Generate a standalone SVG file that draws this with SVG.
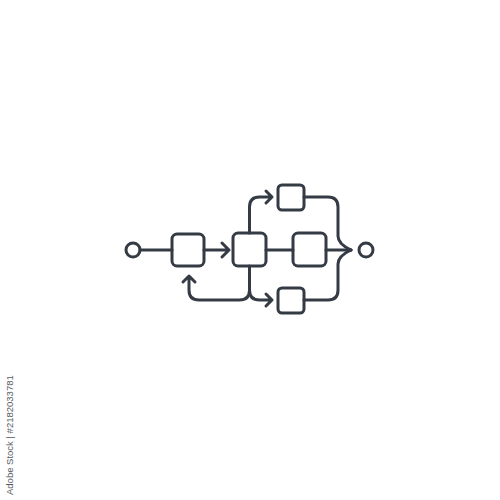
<svg xmlns="http://www.w3.org/2000/svg" width="500" height="500" viewBox="0 0 500 500">
<style>
.s{fill:none;stroke:#353b45;stroke-width:3;stroke-linecap:round;stroke-linejoin:round}
.wm{font-family:"Liberation Sans",Arial,sans-serif;font-size:9.5px;fill:#555b63}
</style>
<rect width="500" height="500" fill="#ffffff"/>
<g id="start"><circle class="s" cx="133" cy="250" r="7"/></g>
<g id="box1"><rect class="s" x="172" y="234" width="32" height="32" rx="5"/></g>
<g id="box2"><rect class="s" x="233" y="233" width="33" height="33" rx="5"/></g>
<g id="box3"><rect class="s" x="293" y="233" width="33" height="33" rx="5"/></g>
<g id="boxTop"><rect class="s" x="278" y="185" width="26" height="25" rx="4"/></g>
<g id="boxBottom"><rect class="s" x="278" y="288" width="26" height="25" rx="4"/></g>
<g id="end"><circle class="s" cx="366" cy="250" r="7"/></g>
<g id="connectors">
<path class="s" d="M140,250 H172"/>
<path class="s" d="M204,250 H229 M222,243 L229,250 L222,257"/>
<path class="s" d="M266,250 H293"/>
<path class="s" d="M326,250 H351"/>
<path class="s" d="M249.5,233 V207 Q249.5,197 259.5,197 H272 M266,191 L272,197 L266,203"/>
<path class="s" d="M304,197 H328 Q338,197 338,207 V236 Q338,244 351,250"/>
<path class="s" d="M304,300 H328 Q338,300 338,290 V264 Q338,256 351,250"/>
<path class="s" d="M249.5,266 V290 Q249.5,300 259.5,300 H272 M266,294 L272,300 L266,306"/>
<path class="s" d="M249.5,290 Q249.5,300 239.5,300 H199 Q189,300 189,290 V276 M183,282 L189,276 L195,282"/>
</g>
<text class="wm" transform="translate(13,495) rotate(-90)">Adobe Stock | #2182033781</text>
</svg>
